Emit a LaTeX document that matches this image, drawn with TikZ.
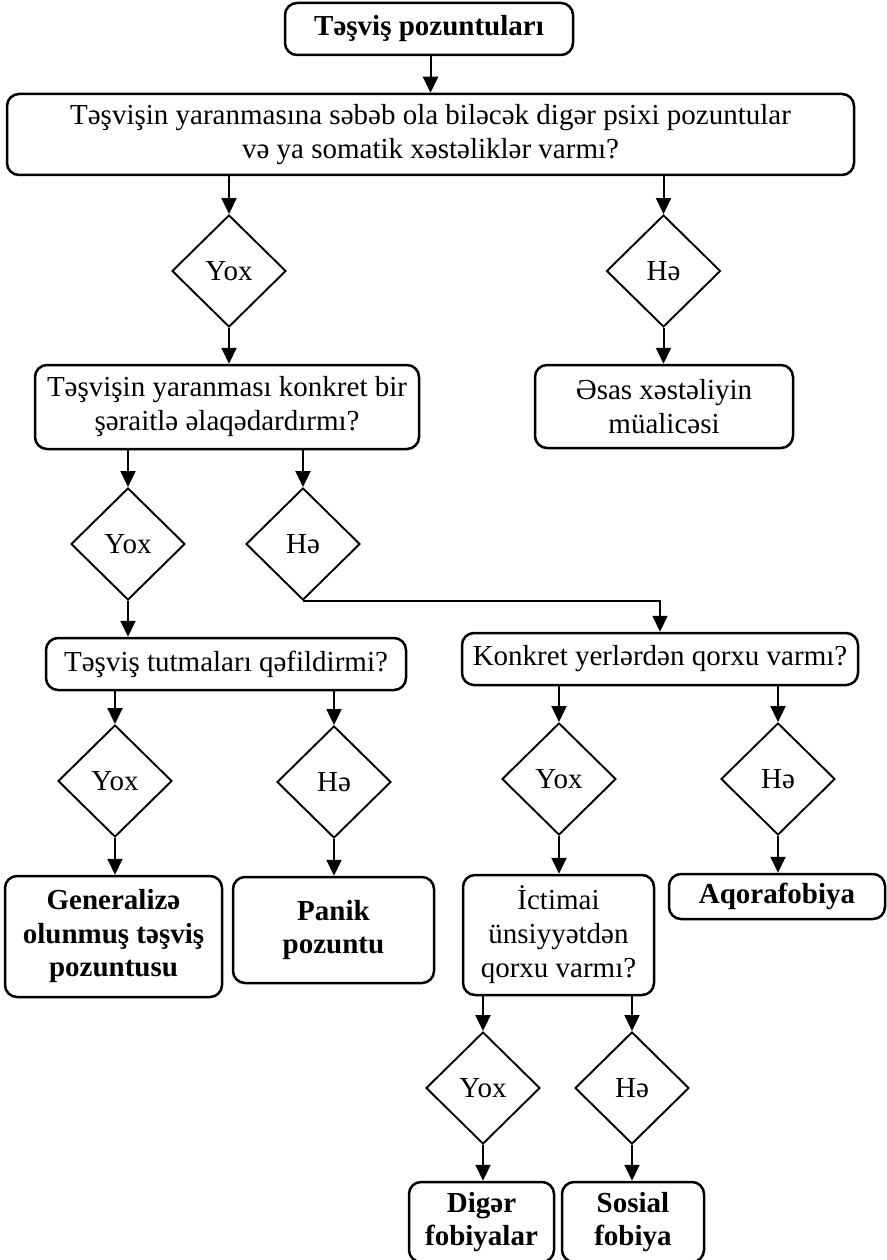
\documentclass[tikz,border=0pt]{standalone}
\usepackage{fontspec}
\setmainfont{Liberation Serif}
\usetikzlibrary{shapes.geometric,arrows.meta}
\begin{document}
\begin{tikzpicture}[x=1pt,y=-1pt,
  box/.style={draw, rounded corners=12pt, line width=2.5pt, align=center, inner sep=0pt,
              font=\fontsize{29}{34}\selectfont},
  bbox/.style={box, font=\fontsize{29}{33.5}\selectfont\bfseries},
  dia/.style={draw, diamond, minimum width=114pt, minimum height=112pt, inner sep=0pt,
              line width=1.9pt, font=\fontsize{29}{34}\selectfont},
  arr/.style={-{Triangle[length=16pt,width=15pt]}, line width=2pt}]
\useasboundingbox (0,0) rectangle (886,1260);

% boxes
\node[bbox, minimum width=288pt, minimum height=52pt] (top) at (429,29) {Təşviş pozuntuları};
\node[box, minimum width=847pt, minimum height=81pt] (big) at (430.5,134.5)
  {Təşvişin yaranmasına səbəb ola biləcək digər psixi pozuntular\\və ya somatik xəstəliklər varmı?};
\node[box, minimum width=384pt, minimum height=84pt] (b2) at (227,407)
  {Təşvişin yaranması konkret bir\\şəraitlə əlaqədardırmı?};
\node[box, minimum width=258pt, minimum height=83pt] (b3) at (664,406.5)
  {Əsas xəstəliyin\\müalicəsi};
\node[box, minimum width=360pt, minimum height=52pt] (b4) at (226,664)
  {Təşviş tutmaları qəfildirmi?};
\node[box, minimum width=396pt, minimum height=52pt] (b5) at (660,659)
  {Konkret yerlərdən qorxu varmı?};
\node[bbox, minimum width=217pt, minimum height=121pt] (b6) at (113.5,936.5)
  {Generalizə\\olunmuş təşviş\\pozuntusu};
\node[bbox, minimum width=201pt, minimum height=106pt] (b7) at (333.5,930)
  {Panik\\pozuntu};
\node[box, minimum width=191pt, minimum height=120pt] (b8) at (558.5,935)
  {İctimai\\ünsiyyətdən\\qorxu varmı?};
\node[bbox, minimum width=216pt, minimum height=45pt] (b9) at (777,896.5)
  {Aqorafobiya};
\node[bbox, minimum width=145pt, minimum height=80pt] (b10) at (481.5,1222)
  {Digər\\fobiyalar};
\node[bbox, minimum width=142pt, minimum height=80pt] (b11) at (633,1222)
  {Sosial\\fobiya};

% diamonds
\node[dia] (d1) at (229,271) {Yox};
\node[dia] (d2) at (663.5,271) {Hə};
\node[dia] (d3) at (128,544) {Yox};
\node[dia] (d4) at (303,544) {Hə};
\node[dia] (d5) at (115,781) {Yox};
\node[dia] (d6) at (334,782) {Hə};
\node[dia] (d7) at (559,779) {Yox};
\node[dia] (d8) at (778,779) {Hə};
\node[dia] (d9) at (483,1088) {Yox};
\node[dia] (d10) at (632,1088) {Hə};

% connectors
\draw[arr] (top.south -| big.north) -- (big.north);
\draw[arr] (d1.north |- big.south) -- (d1.north);
\draw[arr] (d2.north |- big.south) -- (d2.north);
\draw[arr] (d1.south) -- (d1.south |- b2.north);
\draw[arr] (d2.south) -- (d2.south |- b3.north);
\draw[arr] (d3.north |- b2.south) -- (d3.north);
\draw[arr] (d4.north |- b2.south) -- (d4.north);
\draw[arr] (d3.south) -- (d3.south |- b4.north);
\draw[arr] (d4.south) -| (b5.north);
\draw[arr] (d5.north |- b4.south) -- (d5.north);
\draw[arr] (d6.north |- b4.south) -- (d6.north);
\draw[arr] (d7.north |- b5.south) -- (d7.north);
\draw[arr] (d8.north |- b5.south) -- (d8.north);
\draw[arr] (d5.south) -- (d5.south |- b6.north);
\draw[arr] (d6.south) -- (d6.south |- b7.north);
\draw[arr] (d7.south) -- (d7.south |- b8.north);
\draw[arr] (d8.south) -- (d8.south |- b9.north);
\draw[arr] (d9.north |- b8.south) -- (d9.north);
\draw[arr] (d10.north |- b8.south) -- (d10.north);
\draw[arr] (d9.south) -- (d9.south |- b10.north);
\draw[arr] (d10.south) -- (d10.south |- b11.north);
\end{tikzpicture}
\end{document}
